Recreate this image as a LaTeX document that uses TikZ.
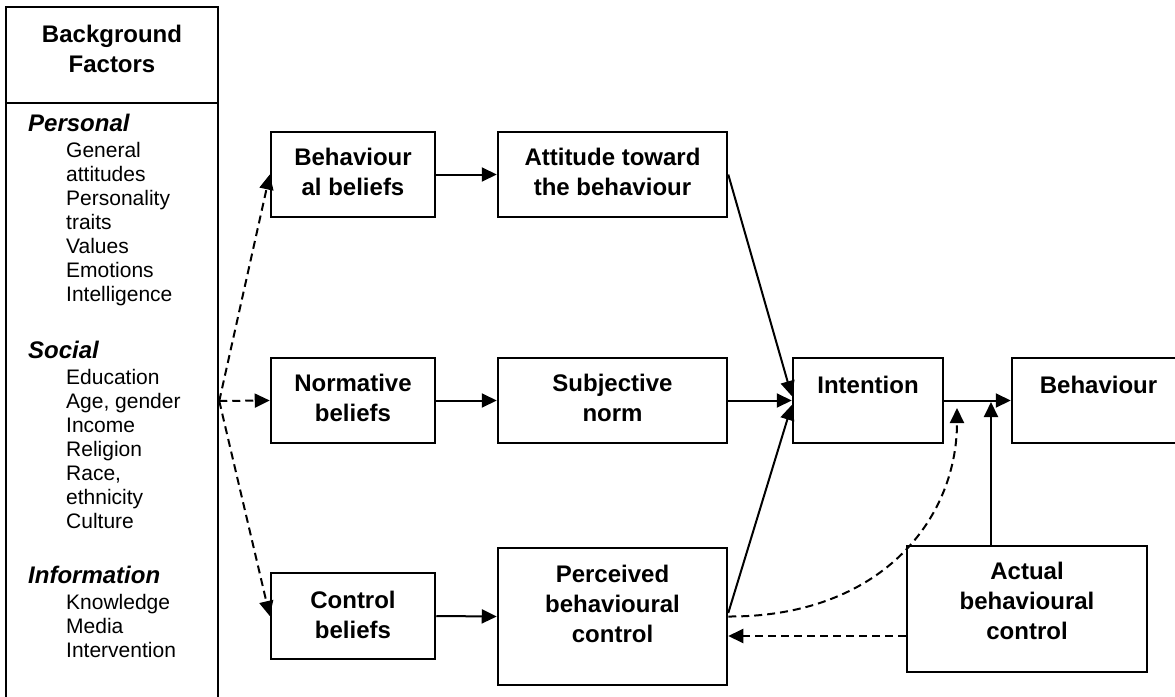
\documentclass[tikz,border=0pt]{standalone}
\usepackage{fontspec}
\setmainfont{Liberation Sans}
\usetikzlibrary{arrows.meta,calc}
\newcommand{\boxlines}[1]{\begin{tabular}[t]{@{}c@{}}#1\end{tabular}}
\newcommand{\itemlines}[1]{\begin{tabular}[t]{@{}l@{}}#1\end{tabular}}
\begin{document}
\begin{tikzpicture}[x=1pt,y=-1pt,
  box/.style={draw, rectangle, line width=2.5pt, inner sep=0pt},
  lbl/.style={font=\fontsize{24}{30}\selectfont\bfseries, inner sep=0pt, anchor=base},
  head/.style={font=\fontsize{24}{30}\selectfont\bfseries\itshape, inner sep=0pt, anchor=base west},
  item/.style={font=\fontsize{21}{24}\selectfont, inner sep=0pt, anchor=base west},
  conn/.style={line width=2pt, -{Triangle[length=15pt,width=14pt]}},
  dconn/.style={conn, dash pattern=on 8pt off 5pt},
]
\useasboundingbox (0,0) rectangle (1175,696);

% background factors panel
\node[box, minimum width=212pt, minimum height=698pt] (panel) at (112,356) {};
\draw[line width=2.5pt] ($(panel.north west)+(0,97)$) -- ($(panel.north east)+(0,97)$);
\node[lbl] (bgf) at (112,42) {\boxlines{Background\\Factors}};

\node[head] (hper) at (28,131.5) {Personal};
\node[item] (iper) at (66,157.5) {\itemlines{General\\attitudes\\Personality\\traits\\Values\\Emotions\\Intelligence}};
\node[head] (hsoc) at (28,358.5) {Social};
\node[item] (isoc) at (66,384.5) {\itemlines{Education\\Age, gender\\Income\\Religion\\Race,\\ethnicity\\Culture}};
\node[head] (hinf) at (28,583.5) {Information};
\node[item] (iinf) at (66,609.5) {\itemlines{Knowledge\\Media\\Intervention}};

% model boxes
\node[box, minimum width=164pt, minimum height=85pt]  (bb)  at (353,174.5) {};
\node[box, minimum width=229pt, minimum height=85pt]  (att) at (612.5,174.5) {};
\node[box, minimum width=164pt, minimum height=85pt]  (nb)  at (353,400.5) {};
\node[box, minimum width=229pt, minimum height=85pt]  (sn)  at (612.5,400.5) {};
\node[box, minimum width=164pt, minimum height=86pt]  (cb)  at (353,616) {};
\node[box, minimum width=229pt, minimum height=137pt] (pbc) at (612.5,616.5) {};
\node[box, minimum width=150pt, minimum height=85pt]  (int) at (868,400.5) {};
\node[box, minimum width=173pt, minimum height=85pt]  (beh) at (1098.5,400.5) {};
\node[box, minimum width=240pt, minimum height=126pt] (abc) at (1027,609) {};

% box texts
\node[lbl] (bbT)  at (353,165)    {\boxlines{Behaviour\\al beliefs}};
\node[lbl] (attT) at (612.5,165)  {\boxlines{Attitude toward\\the behaviour}};
\node[lbl] (nbT)  at (353,391)    {\boxlines{Normative\\beliefs}};
\node[lbl] (snT)  at (612.5,391)  {\boxlines{Subjective\\norm}};
\node[lbl] (cbT)  at (353,608)    {\boxlines{Control\\beliefs}};
\node[lbl] (pbcT) at (612.5,582)  {\boxlines{Perceived\\behavioural\\control}};
\node[lbl] (intT) at (868,393)    {Intention};
\node[lbl] (behT) at (1098.5,393) {Behaviour};
\node[lbl] (abcT) at (1027,579)   {\boxlines{Actual\\behavioural\\control}};

% background factors feed the three belief boxes
\coordinate (src) at ($(panel.east)+(0,45)$);
\draw[dconn] (src) -- (bb.west);
\draw[dconn] (src) -- (nb.west);
\draw[dconn] (src) -- (cb.west);

% beliefs to determinants
\draw[conn] (bb.east) -- (att.west);
\draw[conn] (nb.east) -- (sn.west);
\draw[conn] (cb.east) -- (pbc.west);

% determinants to intention
\draw[conn] (att.east) -- ($(int.west)+(0,-4.5)$);
\draw[conn] (sn.east) -- (int.west);
\draw[conn] ($(pbc.east)+(0,-3.5)$) -- ($(int.west)+(0,4.5)$);

% intention to behaviour, moderated by actual control
\draw[conn] (int.east) -- (beh.west);
\coordinate (jn) at (991,402);
\draw[conn] (abc.north -| jn) -- (jn);
\coordinate (dtip) at (957,408);
\draw[dconn] (pbc.east) .. controls (880,617) and (957,520) .. (dtip);
\draw[dconn] ($(abc.west)+(0,27)$) coordinate (fb) -- (fb -| pbc.east);
\end{tikzpicture}
\end{document}
